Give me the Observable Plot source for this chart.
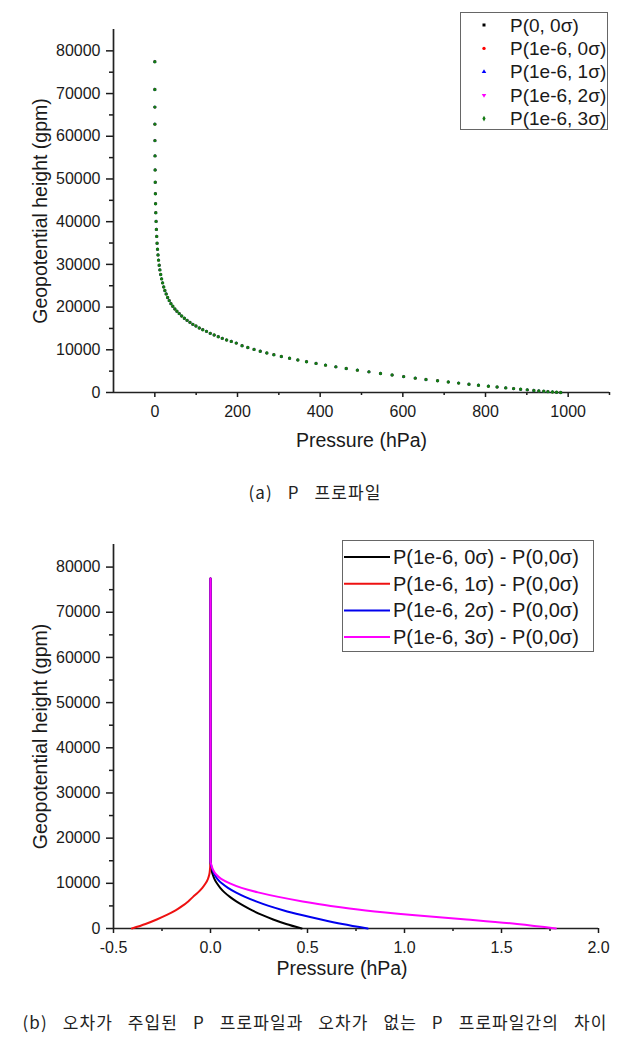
<!DOCTYPE html>
<html><head><meta charset="utf-8">
<script src="https://cdn.jsdelivr.net/npm/d3@7"></script>
<script src="https://cdn.jsdelivr.net/npm/@observablehq/plot@0.6"></script>
<style>
body{margin:0;background:#fff;}
#root{position:relative;width:636px;height:1054px;overflow:hidden;font-family:"Liberation Sans",Arial,sans-serif;color:#1a1a1a;background:#fff;}
#root > svg, #root > div{position:absolute;}
</style></head><body><div id="root"></div>
<script>
// ---------- (a) pressure profile: model levels ----------
const heights = [77460,70960,66830,62840,58990,55400,52110,49230,46550,44200,42090,40070,38190,36550,34950,33530,32200,30990,29810,28710,27630,26600,25660,24720,23870,23070,22230,21520,20810,20190,19550,19010,18470,17900,17370,16900,16430,15960,15560,15090,14710,14320,13850,13450,13070,12680,12280,11970,11570,10950,10520,10090,9670,9250,8840,8430,8020,7610,7210,6810,6410,6010,5620,5230,4840,4460,4090,3720,3360,3040,2740,2460,2200,1940,1710,1480,1280,1080,910,760,620,480,380,280,200,120,55,0];
const pressure = [0.02,0.05,0.1,0.17,0.28,0.45,0.68,0.98,1.35,1.8,2.35,3.0,3.75,4.6,5.4,6.5,7.7,9.0,10.5,12.2,14.2,16.4,18.8,21.5,24.3,27.4,31,34.8,39,43.5,48.5,53.5,59,65,71.5,78,85,92,99.5,107.5,116,125,134,143.5,153.4,163.1,173.7,184.9,197,211,225,240,255,271,288,306,326,346,367,390,413,438,463,490,518,546,574,602,630,656,684,710,735,760,783,807,828,849,868,885,901,917,929,941,951,962,972,982];
const seriesA = ["P(0, 0σ)","P(1e-6, 0σ)","P(1e-6, 1σ)","P(1e-6, 2σ)","P(1e-6, 3σ)"];
const colorsA = ["#000000","#ff0000","#0000ff","#ff00ff","#137a13"];
const symbolsA = ["square","circle","triangle","triangle","circle"];
const rotateA = [0,0,0,180,0];
const sizeA = [1.2,1.2,1.2,1.2,1.7];
const yTicksMajor = [0,10000,20000,30000,40000,50000,60000,70000,80000];
const yTicksMinor = [5000,15000,25000,35000,45000,55000,65000,75000];
const xTicksMajorA = [0,200,400,600,800,1000];
const xTicksMinorA = [100,300,500,700,900,1100];

// ---------- (b) differences ----------
const bHeights = [77460,15000,14000,13000,12000,11000,10000,9000,8000,7000,6000,5000,4000,3000,2000,1000,0];
const seriesB = ["P(1e-6, 0σ) - P(0,0σ)","P(1e-6, 1σ) - P(0,0σ)","P(1e-6, 2σ) - P(0,0σ)","P(1e-6, 3σ) - P(0,0σ)"];
const colorsB = ["#000000","#ee1111","#0000ee","#ff00ff"];
const diff0 = [0,0,0.001,0.005,0.011,0.02,0.033,0.05,0.072,0.1,0.133,0.172,0.215,0.265,0.323,0.39,0.47];
const diff1 = [0,0,-0.001,-0.003,-0.006,-0.013,-0.025,-0.042,-0.064,-0.09,-0.115,-0.145,-0.18,-0.225,-0.277,-0.335,-0.405];
const diff2 = [0,0,0.003,0.01,0.02,0.035,0.058,0.09,0.13,0.178,0.235,0.3,0.378,0.47,0.57,0.68,0.81];
const diff3 = [0,0,0.005,0.013,0.028,0.055,0.1,0.16,0.245,0.35,0.475,0.62,0.8,1.04,1.32,1.58,1.78];
const diffsB = [diff0,diff1,diff2,diff3];
const xTicksMajorB = [-0.5,0,0.5,1,1.5,2];
const xTicksMinorB = [-0.25,0.25,0.75,1.25,1.75];

const root = document.getElementById("root");
const axisColor = "#222";
const baseStyle = {fontFamily:'"Liberation Sans", Arial, sans-serif', fontSize:"16px", color:"#1a1a1a", background:"#fff", overflow:"visible"};

function axes(xMajor, xMinor, xFmt, xDomain) {
  return [
    Plot.axisY({ticks: yTicksMajor, tickSize: 7, tickPadding: 6, tickFormat: d => String(d), label: null, strokeWidth: 1.5}),
    Plot.axisY({ticks: yTicksMinor, tickSize: 4, tickPadding: 0, tickFormat: () => "", label: null, strokeWidth: 1.5}),
    Plot.axisX({ticks: xMajor, tickSize: 5, tickPadding: 8, tickFormat: xFmt, label: null, strokeWidth: 1.5}),
    Plot.axisX({ticks: xMinor, tickSize: 3, tickPadding: 0, tickFormat: () => "", label: null, strokeWidth: 1.5}),
    Plot.ruleX([xDomain[0]], {stroke: axisColor, strokeWidth: 1.7}),
    Plot.ruleY([0], {stroke: axisColor, strokeWidth: 1.7})
  ];
}

// ---- chart (a)
const dataA = seriesA.flatMap((s, k) => heights.map((h, i) => ({series: s, k, p: pressure[i], h})));
const chartA = Plot.plot({
  width: 636, height: 460,
  marginLeft: 113, marginRight: 27, marginTop: 29, marginBottom: 68,
  x: {domain: [-100, 1100]},
  y: {domain: [0, 85000]},
  style: baseStyle,
  marks: [
    ...axes(xTicksMajorA, xTicksMinorA, d => String(d), [-100, 1100]),
    ...seriesA.map((s, k) => Plot.dot(dataA.filter(d => d.k === k), {
      x: "p", y: "h", symbol: () => symbolsA[k], rotate: rotateA[k], r: sizeA[k],
      fill: colorsA[k], stroke: "none"
    })),
    Plot.text(["Pressure (hPa)"], {text: d => d, frameAnchor: "bottom", dy: 48, fontSize: 19.5, textAnchor: "middle", lineAnchor: "middle", fill: "#1a1a1a"}),
    Plot.text(["Geopotential height (gpm)"], {text: d => d, frameAnchor: "left", dx: -73, rotate: -90, fontSize: 19.5, textAnchor: "middle", lineAnchor: "middle", fill: "#1a1a1a"})
  ]
});
chartA.style.left = "0px"; chartA.style.top = "0px";
root.appendChild(chartA);

// ---- chart (b)
const dataB = seriesB.flatMap((s, k) => bHeights.map((h, i) => ({series: s, k, d: diffsB[k][i], h})));
const chartB = Plot.plot({
  width: 636, height: 480,
  marginLeft: 113, marginRight: 38, marginTop: 34, marginBottom: 62,
  x: {domain: [-0.5, 2.0]},
  y: {domain: [0, 85000]},
  style: baseStyle,
  marks: [
    ...axes(xTicksMajorB, xTicksMinorB, d => d.toFixed(1), [-0.5, 2.0]),
    ...seriesB.map((s, k) => Plot.line(dataB.filter(d => d.k === k), {
      x: "d", y: "h", stroke: colorsB[k], strokeWidth: 2, curve: "monotone-y"
    })),
    Plot.text(["Pressure (hPa)"], {text: d => d, frameAnchor: "bottom", dy: 40, dx: -14, fontSize: 19.5, textAnchor: "middle", lineAnchor: "middle", fill: "#1a1a1a"}),
    Plot.text(["Geopotential height (gpm)"], {text: d => d, frameAnchor: "left", dx: -73, rotate: -90, fontSize: 19.5, textAnchor: "middle", lineAnchor: "middle", fill: "#1a1a1a"})
  ]
});
chartB.style.left = "0px"; chartB.style.top = "510px";
root.appendChild(chartB);

// ---- legend (a)
{
  const svg = d3.select(root).append("svg")
    .attr("width", 149).attr("height", 119)
    .style("left", "460px").style("top", "12px")
    .style("font-family", '"Liberation Sans", Arial, sans-serif');
  svg.append("rect").attr("x", 0.5).attr("y", 0.5).attr("width", 147).attr("height", 117)
    .attr("fill", "#fff").attr("stroke", "#666").attr("stroke-width", 1);
  const symTypes = [d3.symbolSquare, d3.symbolCircle, d3.symbolTriangle, d3.symbolTriangle, d3.symbolDiamond];
  seriesA.forEach((s, k) => {
    const y = 13 + k * 23.4;
    svg.append("path").attr("d", d3.symbol(symTypes[k], 9)())
      .attr("transform", `translate(24,${y}) rotate(${rotateA[k]})`).attr("fill", colorsA[k]);
    svg.append("text").attr("x", 50).attr("y", y).attr("dy", "0.35em")
      .attr("font-size", 19).attr("fill", "#1a1a1a").text(s);
  });
}

// ---- legend (b)
{
  const svg = d3.select(root).append("svg")
    .attr("width", 253).attr("height", 113)
    .style("left", "342px").style("top", "540px")
    .style("font-family", '"Liberation Sans", Arial, sans-serif');
  svg.append("rect").attr("x", 0.5).attr("y", 0.5).attr("width", 251).attr("height", 111)
    .attr("fill", "#fff").attr("stroke", "#666").attr("stroke-width", 1);
  seriesB.forEach((s, k) => {
    const y = 17 + k * 26.7;
    svg.append("line").attr("x1", 2).attr("x2", 48).attr("y1", y).attr("y2", y)
      .attr("stroke", colorsB[k]).attr("stroke-width", 2);
    svg.append("text").attr("x", 51).attr("y", y).attr("dy", "0.35em")
      .attr("font-size", 20).attr("fill", "#1a1a1a").text(s);
  });
}

// ---- captions
function caption(text, top) {
  const svg = d3.select(root).append("svg")
    .attr("width", 636).attr("height", 30)
    .style("left", "0px").style("top", top + "px");
  svg.append("text").attr("x", 315).attr("y", 15).attr("dy", "0.35em")
    .attr("text-anchor", "middle")
    .attr("font-family", '"Noto Sans CJK KR", "Noto Sans", sans-serif')
    .attr("font-size", 17).attr("fill", "#222")
    .style("word-spacing", "10px").style("letter-spacing", "1.1px")
    .text(text);
}
caption("(a) P 프로파일", 478);
caption("(b) 오차가 주입된 P 프로파일과 오차가 없는 P 프로파일간의 차이", 1008);
</script></body></html>
